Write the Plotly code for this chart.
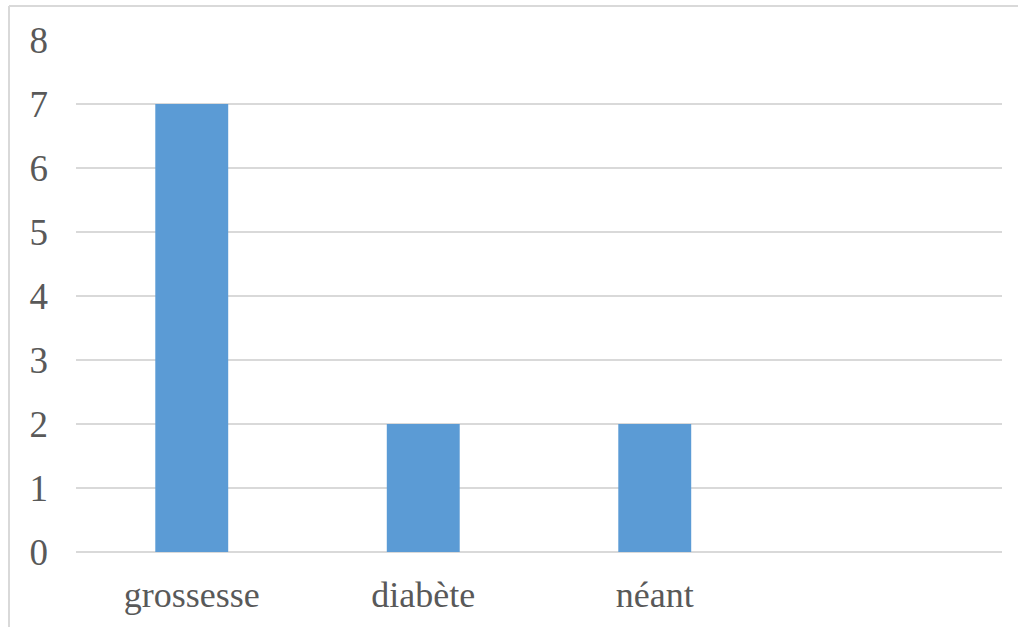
import plotly.graph_objects as go

categories = ["grossesse", "diabète", "néant", " "]
values = [7, 2, 2, None]
y_ticks = [0, 1, 2, 3, 4, 5, 6, 7, 8]

fig = go.Figure(
    go.Bar(
        x=categories,
        y=values,
        marker=dict(color="#5b9bd5", line=dict(width=0)),
    )
)

L, R, T, B = 76, 16, 40, 75
W, H = 1018, 627
pw, ph = W - L - R, H - T - B

# outer frame (top and left edges)
x_left = (9 - L) / pw
y_top = (ph - (6 - T)) / ph
frame = dict(type="line", xref="paper", yref="paper",
             line=dict(color="#d9d9d9", width=2), layer="below")

fig.update_layout(
    width=W, height=H,
    margin=dict(l=L, r=R, t=T, b=B),
    paper_bgcolor="white", plot_bgcolor="white",
    bargap=0.685,
    showlegend=False,
    font=dict(family="Liberation Serif, Times New Roman, serif", size=36, color="#595959"),
    xaxis=dict(showgrid=False, showline=False, ticks="", ticklabelstandoff=18,
               tickfont=dict(size=36, color="#595959")),
    yaxis=dict(range=[0, 8], tickvals=y_ticks, showgrid=True, gridcolor="#d9d9d9",
               gridwidth=2, zeroline=True, zerolinecolor="#d9d9d9", zerolinewidth=2,
               showline=False, ticks="", ticklabelstandoff=27,
               tickfont=dict(size=37, color="#595959")),
    shapes=[
        dict(frame, x0=x_left, x1=(W - L) / pw + 0.01, y0=y_top, y1=y_top),
        dict(frame, x0=x_left, x1=x_left, y0=y_top, y1=-B / ph - 0.01),
    ],
)

fig.write_html("out.html")
